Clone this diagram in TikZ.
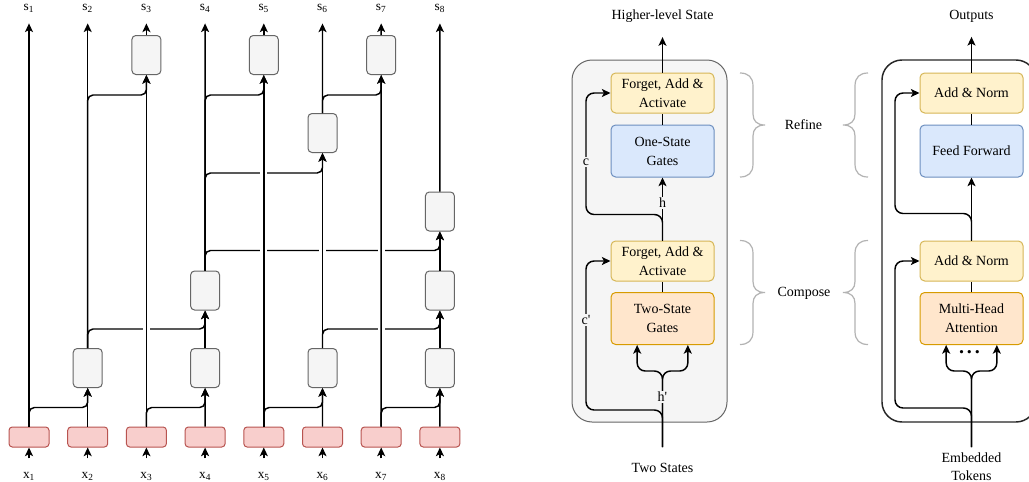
\documentclass[tikz,border=0pt]{standalone}
\usepackage{fontspec}
\setmainfont{Liberation Serif}
\usetikzlibrary{arrows.meta}
\definecolor{redf}{HTML}{F8CECC}
\definecolor{redd}{HTML}{B85450}
\definecolor{grayf}{HTML}{F5F5F5}
\definecolor{grayd}{HTML}{666666}
\definecolor{yelf}{HTML}{FFF2CC}
\definecolor{yeld}{HTML}{D6B656}
\definecolor{bluef}{HTML}{DAE8FC}
\definecolor{blued}{HTML}{6C8EBF}
\definecolor{orf}{HTML}{FFE6CC}
\definecolor{ord}{HTML}{D79B00}
\definecolor{bracec}{HTML}{B3B3B3}
\tikzset{
  tip/.tip={Stealth[length=6.5pt,width=6pt,inset=1.6pt]},
  ln/.style={line width=1.1pt},
  arr/.style={ln,-tip},
  rarr/.style={ln,tip-},
  rc/.style={rounded corners=4pt},
  rcb/.style={rounded corners=6pt},
  sh/.style={shorten >=8.25pt},
  redbox/.style={draw=redd,fill=redf,rounded corners=2.5pt,minimum width=30pt,minimum height=15pt,inner sep=0pt,line width=0.75pt},
  graybox/.style={draw=grayd,fill=grayf,rounded corners=3pt,minimum width=21.75pt,minimum height=29.25pt,inner sep=0pt,line width=0.75pt},
  blk/.style={rounded corners=3.5pt,minimum width=77.25pt,minimum height=30pt,align=center,inner sep=0pt,line width=0.75pt,font=\fontsize{10.5}{14.25}\selectfont},
  faa/.style={blk,draw=yeld,fill=yelf},
  oneg/.style={blk,draw=blued,fill=bluef,minimum height=39pt},
  twog/.style={blk,draw=ord,fill=orf,minimum height=39pt},
  lab/.style={inner sep=0pt,font=\fontsize{10.5}{13.5}\selectfont},
  sub/.style={inner sep=0pt,font=\fontsize{10}{12}\selectfont},
  elab/.style={inner sep=1pt,fill=grayf,font=\fontsize{10.5}{12}\selectfont},
  closebrace/.pic={\draw[bracec,line width=0.9pt] (0,0) .. controls (8,0) and (13,4) .. (13,13) -- (13,41) .. controls (13,48) and (17,52) .. (25,52) .. controls (17,52) and (13,56) .. (13,63) -- (13,91) .. controls (13,100) and (8,104) .. (0,104);},
  openbrace/.pic={\draw[bracec,line width=0.9pt] (0,0) .. controls (-8,0) and (-13,4) .. (-13,13) -- (-13,41) .. controls (-13,48) and (-17,52) .. (-25,52) .. controls (-17,52) and (-13,56) .. (-13,63) -- (-13,91) .. controls (-13,100) and (-8,104) .. (0,104);}
}
\begin{document}
\begin{tikzpicture}[x=0.75pt,y=-0.75pt]
\useasboundingbox (0,0) rectangle (1029,482);
\clip (0,0) rectangle (1029,482);
\fill[white] (0,0) rectangle (1029,482);

% ---------------- left tree ----------------
\foreach \i in {1,...,8} {
  \node[redbox] (r\i) at ({29+58.7*(\i-1)},437) {};
  \node[sub] (x\i) at ({29+58.7*(\i-1)},476) {x\textsubscript{\i}};
  \node[sub] (s\i) at ({29+58.7*(\i-1)},8) {s\textsubscript{\i}};
}
\node[graybox] (l12) at (87.7,368) {};
\node[graybox] (l14) at (205.1,368) {};
\node[graybox] (l16) at (322.5,368) {};
\node[graybox] (l18) at (439.9,368) {};
\node[graybox] (l24) at (205.1,290.5) {};
\node[graybox] (l28) at (439.9,290.5) {};
\node[graybox] (l38) at (439.9,211.5) {};
\node[graybox] (m6) at (322.5,133) {};
\node[graybox] (t3) at (146.4,55) {};
\node[graybox] (t5) at (263.8,55) {};
\node[graybox] (t7) at (381.2,55) {};

% branches
\draw[arr,rc] (r1.north) -- ++(0,-19) -| (l12.south);
\draw[arr,rc] (r3.north) -- ++(0,-19) -| (l14.south);
\draw[arr,rc] (r5.north) -- ++(0,-19) -| (l16.south);
\draw[arr,rc] (r7.north) -- ++(0,-19) -| (l18.south);
\draw[arr,rc] (l12.north) -- ++(0,-19) -| (l24.south);
\draw[arr,rc] (l16.north) -- ++(0,-19) -| (l28.south);
\draw[arr,rc] (l24.north) -- ++(0,-20) -| (l38.south);
\draw[rarr,rc] (m6.south) -- ++(0,20) -| (l24.north);
\draw[rarr,rc] (t5.south) -- ++(0,20) -| (l24.north);
\draw[rarr,rc] (t3.south) -- ++(0,20) -| (l12.north);
\draw[rarr,rc] (t7.south) -- ++(0,20) -| (m6.north);
% line jumps
\foreach \x/\y in {146.4/329, 381.2/329, 263.8/251, 322.5/251, 381.2/251, 263.8/173}
  \fill[white] (\x-3.5,\y-2.5) rectangle (\x+3.5,\y+2.5);

% verticals
\foreach \i in {1,...,8} \draw[arr,shorten <=10pt] (x\i.north) -- (r\i.south);
\draw[arr,sh] (r1.north) -- (s1.south);
\draw[arr] (r2.north) -- (l12.south);
\draw[arr,sh] (l12.north) -- (s2.south);
\draw[arr] (r3.north) -- (t3.south);
\draw[arr,sh] (t3.north) -- (s3.south);
\draw[arr] (r4.north) -- (l14.south);
\draw[arr] (l14.north) -- (l24.south);
\draw[arr,sh] (l24.north) -- (s4.south);
\draw[arr] (r5.north) -- (t5.south);
\draw[arr,sh] (t5.north) -- (s5.south);
\draw[arr] (r6.north) -- (l16.south);
\draw[arr] (l16.north) -- (m6.south);
\draw[arr,sh] (m6.north) -- (s6.south);
\draw[arr] (r7.north) -- (t7.south);
\draw[arr,sh] (t7.north) -- (s7.south);
\draw[arr] (r8.north) -- (l18.south);
\draw[arr] (l18.north) -- (l28.south);
\draw[arr] (l28.north) -- (l38.south);
\draw[arr,sh] (l38.north) -- (s8.south);

% ---------------- middle panel ----------------
\node[draw=grayd,fill=grayf,line width=0.75pt,rounded corners=15pt,minimum width=116.25pt,minimum height=271.5pt,inner sep=0pt] (pm) at (649.5,241) {};
\node[faa] (fa1) at (662.5,93) {Forget, Add \&\\Activate};
\node[oneg] (og) at (662.5,151) {One-State\\Gates};
\node[faa] (fa2) at (662.5,261) {Forget, Add \&\\Activate};
\node[twog] (tg) at (662.5,318.5) {Two-State\\Gates};
\node[lab] (hls) at (662.5,16.5) {Higher-level State};
\node[lab] (ts) at (662.5,467.5) {Two States};
\coordinate (tsin) at (662.5,447);

\draw[arr,rcb] (tsin) -- ++(0,-76) -| ([xshift=-19pt]tg.south);
\draw[arr,rcb] (tsin) -- ++(0,-76) -| ([xshift=19pt]tg.south);
\draw[arr,rcb] (tsin) -- ++(0,-37) -- ++(-76.5,0) |- (fa2.west);
\draw[ln] (tg.north) -- (fa2.south);
\draw[arr] (fa2.north) -- (og.south);
\draw[arr,rcb] (fa2.north) -- ++(0,-26) -- ++(-76.5,0) |- (fa1.west);
\draw[ln] (og.north) -- (fa1.south);
\draw[arr,shorten >=10.5pt] (fa1.north) -- (hls.south);
\node[elab] (hp) at (662.5,397) {h\textquotesingle};
\node[elab] (cp) at (586,320) {c\textquotesingle};
\node[elab] (hh) at (662.5,203) {h};
\node[elab] (cc) at (586,162) {c};

% ---------------- braces ----------------
\pic at (740,73) {closebrace};
\pic at (740,240.5) {closebrace};
\pic at (868,73) {openbrace};
\pic at (868,240.5) {openbrace};
\node[lab] (refine) at (803.5,125) {Refine};
\node[lab] (compose) at (804,293) {Compose};

% ---------------- right panel ----------------
\node[draw=black!85,line width=1.1pt,rounded corners=15pt,minimum width=115.5pt,minimum height=271.5pt,inner sep=0pt] (pr) at (959,241) {};
\node[faa] (an1) at (971.5,93) {Add \& Norm};
\node[oneg] (ff) at (971.5,151) {Feed Forward};
\node[faa] (an2) at (971.5,261) {Add \& Norm};
\node[twog] (mha) at (971.5,318.5) {Multi-Head\\Attention};
\node[lab] (outp) at (971.5,16.5) {Outputs};
\node[lab,align=center] (emb) at (971.5,467) {Embedded\\Tokens};
\coordinate (etin) at (971.5,447);
\node[inner sep=0pt,font=\fontsize{15}{15}\bfseries] (dots) at (969.5,352) {.\kern2.2pt.\kern2.2pt.};

\draw[arr,rcb] (etin) -- ++(0,-76) -| ([xshift=-19pt]mha.south);
\draw[arr,rcb] (etin) -- ++(0,-76) -| ([xshift=19pt]mha.south);
\draw[arr,rcb] (etin) -- ++(0,-39) -- ++(-76.5,0) |- (an2.west);
\draw[ln] (mha.north) -- (an2.south);
\draw[arr] (an2.north) -- (ff.south);
\draw[arr,rcb] (an2.north) -- ++(0,-27) -- ++(-76.5,0) |- (an1.west);
\draw[ln] (ff.north) -- (an1.south);
\draw[arr,shorten >=10.5pt] (an1.north) -- (outp.south);
\end{tikzpicture}
\end{document}
